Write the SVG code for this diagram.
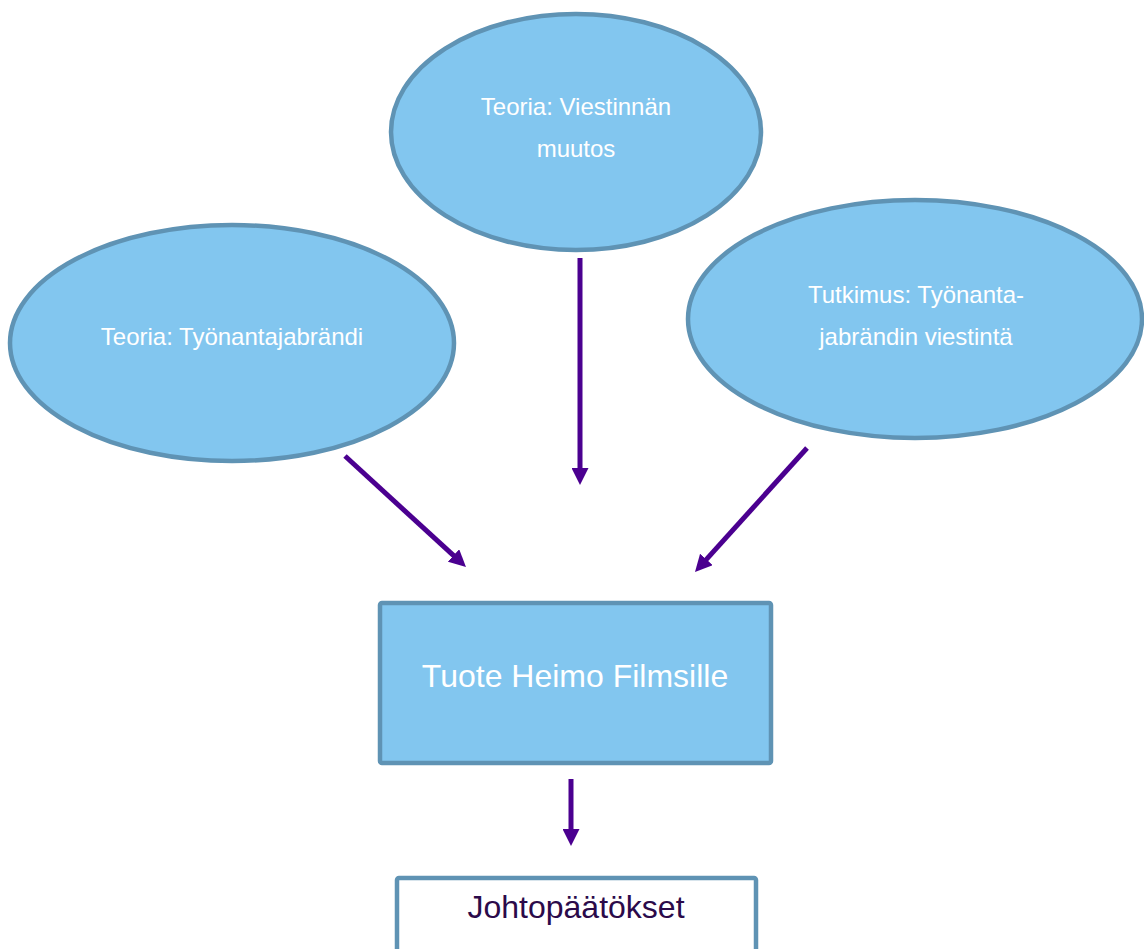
<svg xmlns="http://www.w3.org/2000/svg" width="1144" height="949" viewBox="0 0 1144 949">
  <style>
    .oval { fill: #82c6ef; stroke: #5f93b4; stroke-width: 4.5; }
    .box { fill: #82c6ef; stroke: #5f93b4; stroke-width: 4.5; }
    .wbox { fill: #ffffff; stroke: #5f93b4; stroke-width: 4.5; }
    .t { font-family: "Liberation Sans", Arial, sans-serif; fill: #ffffff; text-anchor: middle; font-size: 24px; }
    .big { font-size: 32px; }
    .dark { fill: #2b0a4a; }
    .conn { stroke: #4b0090; stroke-width: 5; fill: none; marker-end: url(#ah); }
  </style>
  <defs>
    <marker id="ah" viewBox="0 0 17 17" refX="4" refY="8.5" markerWidth="17" markerHeight="17" markerUnits="userSpaceOnUse" orient="auto">
      <path d="M0,0 L17,8.5 L0,17 z" fill="#4b0090"/>
    </marker>
  </defs>
  <rect width="1144" height="949" fill="#ffffff"/>
  <g id="node-viestinta">
    <ellipse class="oval" cx="576" cy="132" rx="185" ry="118"/>
    <text class="t" x="576" y="115">Teoria: Viestinnän</text>
    <text class="t" x="576" y="157">muutos</text>
  </g>
  <g id="node-tyonantajabrandi">
    <ellipse class="oval" cx="232" cy="343" rx="222" ry="118"/>
    <text class="t" x="232" y="345">Teoria: Työnantajabrändi</text>
  </g>
  <g id="node-tutkimus">
    <ellipse class="oval" cx="915" cy="319" rx="227" ry="119"/>
    <text class="t" x="916" y="303">Tutkimus: Työnanta-</text>
    <text class="t" x="916" y="345">jabrändin viestintä</text>
  </g>
  <g id="node-tuote">
    <rect class="box" x="380" y="603" width="391" height="160" rx="2"/>
    <text class="t big" x="575" y="687">Tuote Heimo Filmsille</text>
  </g>
  <g id="node-johtopaatokset">
    <rect class="wbox" x="397" y="878" width="359" height="80" rx="2"/>
    <text class="t big dark" x="576" y="918">Johtopäätökset</text>
  </g>
  <g id="connectors">
    <line class="conn" x1="580" y1="258" x2="580" y2="472"/>
    <line class="conn" x1="345" y1="456" x2="456.4" y2="558.2"/>
    <line class="conn" x1="807" y1="448" x2="703.7" y2="562.4"/>
    <line class="conn" x1="571" y1="779" x2="571" y2="833"/>
  </g>
</svg>
